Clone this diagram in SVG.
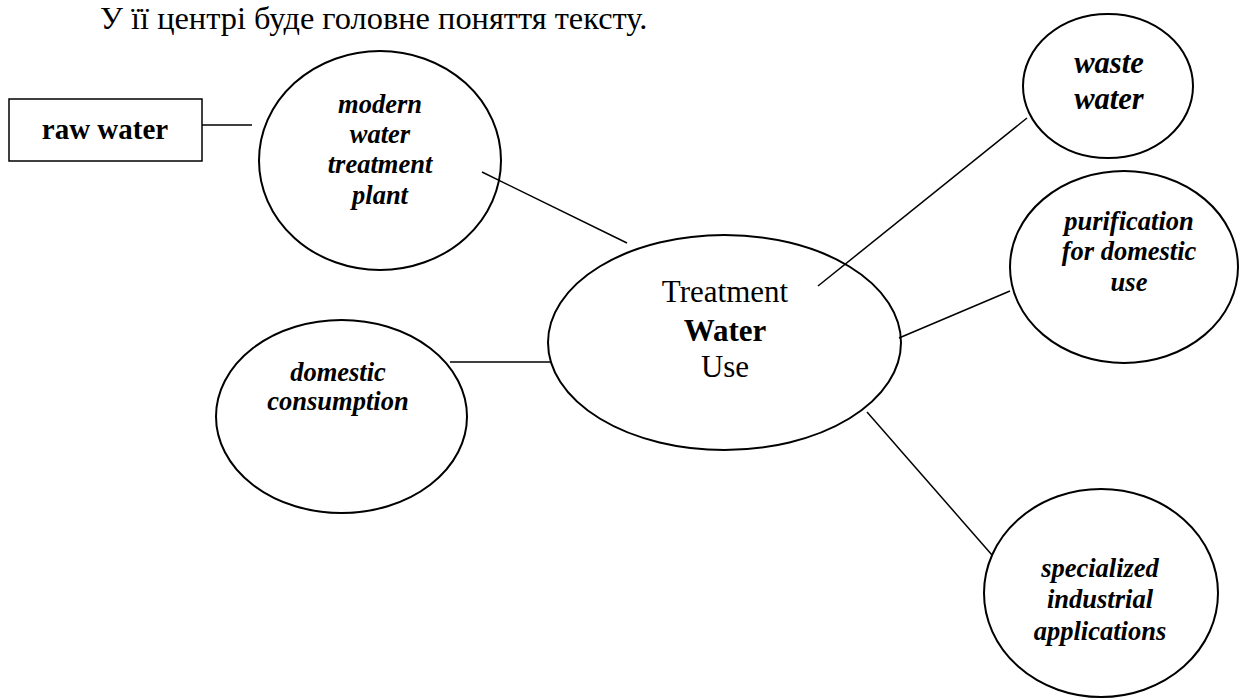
<svg xmlns="http://www.w3.org/2000/svg" width="1241" height="700" viewBox="0 0 1241 700">
<style>
  .bg { fill: #ffffff; }
  .node { fill: #ffffff; stroke: #000000; stroke-width: 2; }
  .box { fill: #ffffff; stroke: #000000; stroke-width: 1.5; }
  .conn line { stroke: #000000; stroke-width: 1.5; }
  text { font-family: "Liberation Serif", "Times New Roman", serif; fill: #000000; text-anchor: middle; }
  .lbl { font-size: 26.5px; font-weight: bold; font-style: italic; }
  .big { font-size: 30.5px; font-weight: bold; font-style: italic; }
  .ctr { font-size: 31px; }
  .head { font-size: 32.4px; text-anchor: start; }
</style>
<rect class="bg" x="0" y="0" width="1241" height="700"/>
<text class="head" x="100" y="29">У її центрі буде головне поняття тексту.</text>
<g id="raw-water">
  <rect class="box" x="9" y="99" width="193" height="62"/>
  <text x="105" y="139" style="font-size:29px;font-weight:bold">raw water</text>
</g>
<g id="modern-water-treatment-plant">
  <ellipse class="node" cx="380" cy="160.5" rx="121" ry="109.5"/>
  <text class="lbl" x="380" y="113">modern</text>
  <text class="lbl" x="380" y="143">water</text>
  <text class="lbl" x="380" y="173">treatment</text>
  <text class="lbl" x="380" y="204">plant</text>
</g>
<g id="water-treatment-use">
  <ellipse class="node" cx="724.5" cy="342.5" rx="176.5" ry="107.5"/>
  <text class="ctr" x="725" y="302">Treatment</text>
  <text class="ctr" x="725" y="341" font-weight="bold">Water</text>
  <text class="ctr" x="725" y="377">Use</text>
</g>
<g id="waste-water">
  <ellipse class="node" cx="1108" cy="86" rx="85" ry="72"/>
  <text class="big" x="1109" y="73">waste</text>
  <text class="big" x="1109" y="109">water</text>
</g>
<g id="purification-for-domestic-use">
  <ellipse class="node" cx="1124" cy="267" rx="114" ry="96"/>
  <text class="lbl" x="1129" y="230">purification</text>
  <text class="lbl" x="1129" y="260">for domestic</text>
  <text class="lbl" x="1129" y="291">use</text>
</g>
<g id="domestic-consumption">
  <ellipse class="node" cx="341.5" cy="416.5" rx="125.5" ry="96.5"/>
  <text class="lbl" x="338" y="381">domestic</text>
  <text class="lbl" x="338" y="410">consumption</text>
</g>
<g id="specialized-industrial-applications">
  <ellipse class="node" cx="1101" cy="593" rx="117" ry="104"/>
  <text class="lbl" x="1100" y="577">specialized</text>
  <text class="lbl" x="1100" y="608">industrial</text>
  <text class="lbl" x="1100" y="640">applications</text>
</g>
<g id="connectors" class="conn">
  <line x1="202" y1="125" x2="252" y2="125"/>
  <line x1="482" y1="172" x2="627" y2="243"/>
  <line x1="818" y1="286" x2="1027" y2="118"/>
  <line x1="899" y1="338" x2="1010" y2="291"/>
  <line x1="450" y1="362" x2="550" y2="362"/>
  <line x1="867" y1="412" x2="992" y2="555"/>
</g>
</svg>
